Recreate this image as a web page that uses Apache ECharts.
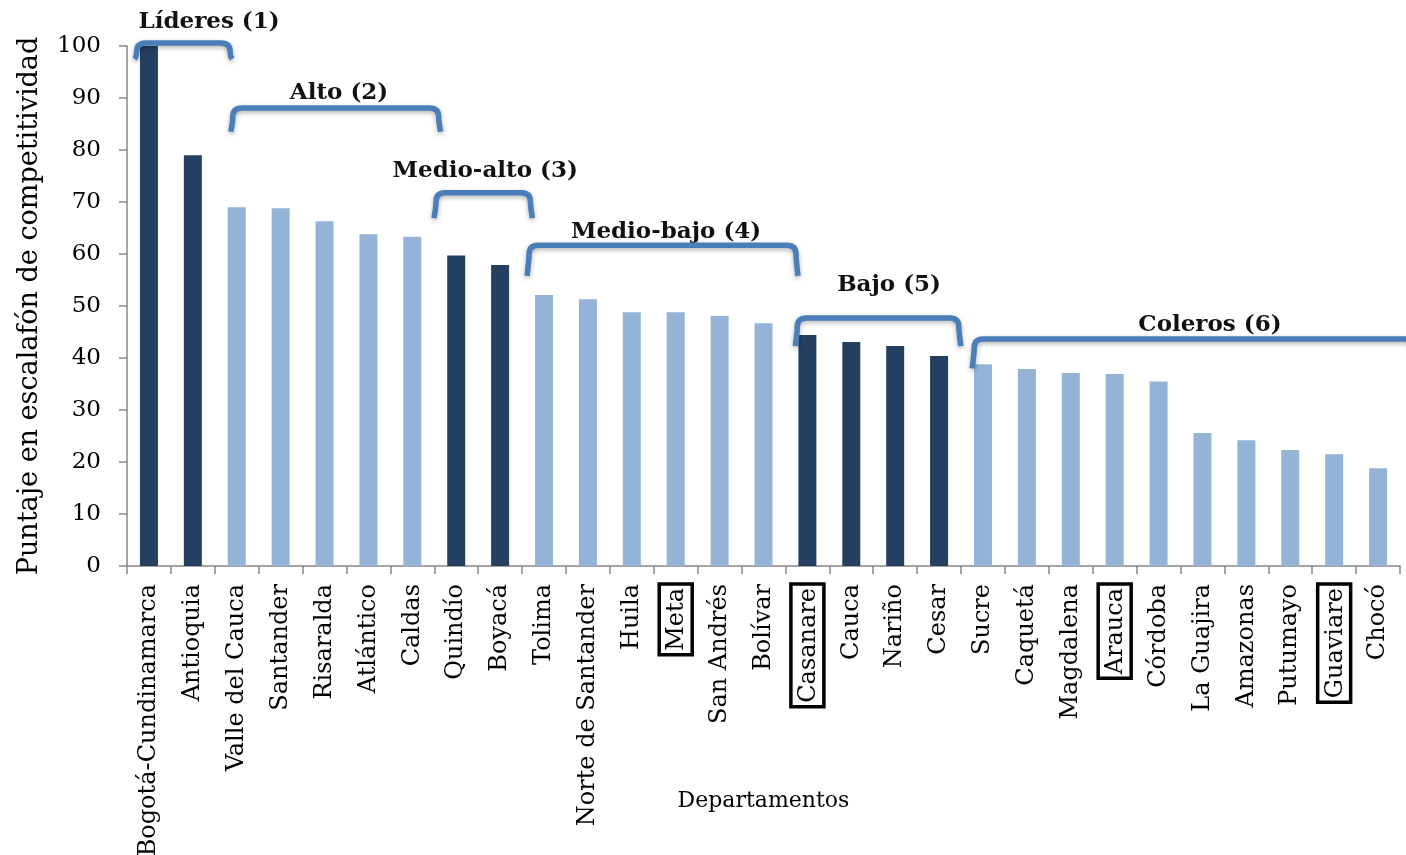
<!DOCTYPE html>
<html>
<head>
<meta charset="utf-8">
<script src="https://cdn.jsdelivr.net/npm/echarts@6/dist/echarts.min.js"></script>
<style>
  html, body { margin: 0; padding: 0; background: #fff; }
  #chart { width: 1406px; height: 855px; }
</style>
</head>
<body>
<div id="chart"></div>
<script>
const departamentos = ['Bogotá-Cundinamarca', 'Antioquia', 'Valle del Cauca', 'Santander', 'Risaralda', 'Atlántico', 'Caldas',
  'Quindío', 'Boyacá', 'Tolima', 'Norte de Santander', 'Huila', 'Meta', 'San Andrés', 'Bolívar',
  'Casanare', 'Cauca', 'Nariño', 'Cesar', 'Sucre', 'Caquetá', 'Magdalena', 'Arauca', 'Córdoba',
  'La Guajira', 'Amazonas', 'Putumayo', 'Guaviare', 'Chocó'];
const puntaje = [100, 79.0, 69.0, 68.8, 66.3, 63.8, 63.3,
  59.7, 57.9, 52.1, 51.3, 48.8, 48.8, 48.1, 46.7,
  44.4, 43.1, 42.3, 40.4, 38.8, 37.9, 37.1, 36.9, 35.5,
  25.6, 24.2, 22.3, 21.5, 18.8];
const grupos = ['Líderes (1)', 'Alto (2)', 'Medio-alto (3)', 'Medio-bajo (4)', 'Bajo (5)', 'Coleros (6)'];
const grupoInicio = [0, 2, 7, 9, 15, 19];
const grupoFin = [1, 6, 8, 14, 18, 28];
const resaltados = ['Meta', 'Casanare', 'Arauca', 'Guaviare'];

// bracket placement in (category index, axis value) units
const llaves = [
  { x0: -0.28, x1: 1.85, top: 100.6, drop: 97.5, lx: 1.37, ly: 104.6 },
  { x0: 1.91, x1: 6.6, top: 88.1, drop: 83.5, lx: 4.33, ly: 91.0 },
  { x0: 6.54, x1: 8.69, top: 71.8, drop: 66.9, lx: 7.66, ly: 75.9 },
  { x0: 8.66, x1: 14.74, top: 61.7, drop: 55.8, lx: 11.78, ly: 64.2 },
  { x0: 14.77, x1: 18.45, top: 47.7, drop: 42.3, lx: 16.86, ly: 54.0 },
  { x0: 18.8, x1: 28.8, top: 43.65, drop: 38.0, lx: 24.17, ly: 46.3 }
];

const SERIF = '"DejaVu Serif", serif';
const DARK = '#243f60';
const LIGHT = '#95b3d7';
const AXIS = '#868686';

const grupoDe = i => grupoInicio.findIndex((s, g) => i >= s && i <= grupoFin[g]);

const chart = echarts.init(document.getElementById('chart'));

chart.setOption({
  animation: false,
  grid: { left: 127, right: 6, top: 46, bottom: 289, containLabel: false, outerBoundsMode: 'none' },
  xAxis: {
    type: 'category',
    data: departamentos,
    name: 'Departamentos',
    nameLocation: 'middle',
    nameGap: 224,
    nameMoveOverlap: false,
    nameTextStyle: { fontFamily: SERIF, fontSize: 22, color: '#000' },
    axisLine: { lineStyle: { color: AXIS, width: 1.5 } },
    axisTick: { show: true, length: 8, lineStyle: { color: AXIS, width: 1.5 } },
    axisLabel: {
      interval: 0,
      rotate: 90,
      margin: 18,
      color: '#000',
      fontFamily: SERIF,
      fontSize: 24,
      formatter: v => resaltados.includes(v) ? `{caja|${v}}` : v,
      rich: {
        caja: {
          fontFamily: SERIF,
          fontSize: 24,
          color: '#000',
          borderColor: '#000',
          borderWidth: 3.5,
          padding: [6, 4, 3, 4]
        }
      }
    }
  },
  yAxis: {
    type: 'value',
    min: 0,
    max: 100,
    interval: 10,
    name: 'Puntaje en escalafón de competitividad',
    nameLocation: 'middle',
    nameRotate: 90,
    nameGap: 84,
    nameMoveOverlap: false,
    nameTextStyle: { fontFamily: SERIF, fontSize: 27, color: '#000' },
    axisLine: { show: true, lineStyle: { color: AXIS, width: 1.5 } },
    axisTick: { show: true, length: 8, lineStyle: { color: AXIS, width: 1.5 } },
    axisLabel: { margin: 26, color: '#000', fontFamily: SERIF, fontSize: 23 },
    splitLine: { show: false }
  },
  series: [
    {
      type: 'bar',
      barWidth: 18,
      data: puntaje.map((v, i) => ({
        value: v,
        itemStyle: { color: grupoDe(i) % 2 === 0 ? DARK : LIGHT }
      }))
    },
    {
      type: 'custom',
      clip: false,
      z: 5,
      data: llaves.map((b, i) => [0, i]),
      renderItem: (params, api) => {
        const b = llaves[params.dataIndex];
        const base = api.coord([0, 0])[0];
        const band = api.size([1, 0])[0];
        const px = i => base + i * band;
        const py = v => api.coord([0, v])[1];
        const xa = px(b.x0), xb = px(b.x1), yt = py(b.top), yd = py(b.drop);
        const r = 9;
        const d = `M ${xa - 2} ${yd} Q ${xa} ${yt + r * 1.5} ${xa} ${yt + r} Q ${xa} ${yt} ${xa + r} ${yt} ` +
          `L ${xb - r} ${yt} Q ${xb} ${yt} ${xb} ${yt + r} Q ${xb} ${yt + r * 1.5} ${xb + 2} ${yd}`;
        return {
          type: 'group',
          children: [
            {
              type: 'text',
              style: {
                text: grupos[params.dataIndex],
                x: px(b.lx),
                y: py(b.ly),
                align: 'center',
                verticalAlign: 'middle',
                font: `bold 23px ${SERIF}`,
                fill: '#111'
              }
            },
            {
              type: 'path',
              shape: { pathData: d },
              style: {
                fill: null,
                stroke: '#4a7ebb',
                lineWidth: 5.5,
                shadowBlur: 5,
                shadowOffsetY: 2,
                shadowColor: 'rgba(0,0,0,0.3)'
              }
            }
          ]
        };
      }
    }
  ]
});
</script>
</body>
</html>
